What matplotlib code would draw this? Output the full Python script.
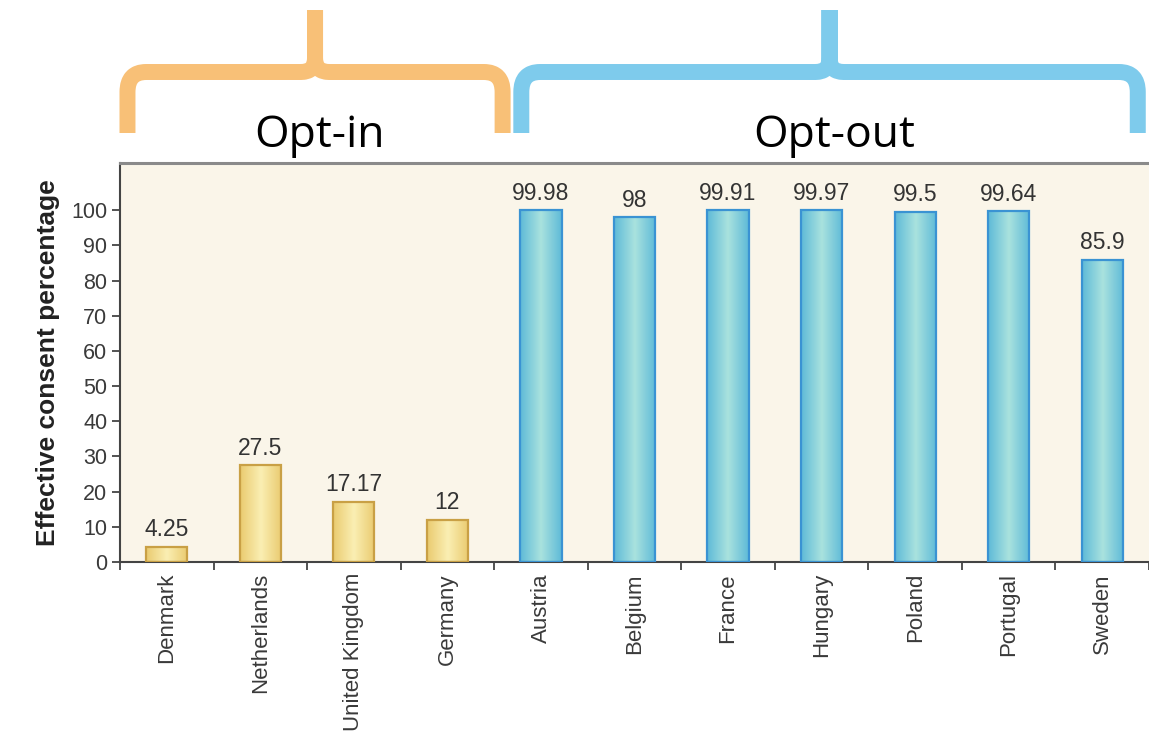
import numpy as np
import matplotlib
matplotlib.use('Agg')
import matplotlib.pyplot as plt
from matplotlib.path import Path
from matplotlib.patches import PathPatch
from matplotlib import transforms
from matplotlib.colors import LinearSegmentedColormap

# data
countries = ['Denmark', 'Netherlands', 'United Kingdom', 'Germany',
             'Austria', 'Belgium', 'France', 'Hungary', 'Poland',
             'Portugal', 'Sweden']
consent = [4.25, 27.5, 17.17, 12, 99.98, 98, 99.91, 99.97, 99.5, 99.64, 85.9]
value_labels = ['4.25', '27.5', '17.17', '12', '99.98', '98', '99.91',
                '99.97', '99.5', '99.64', '85.9']
groups = ['Opt-in', 'Opt-out']
group_size = [4, 7]
yticks = list(range(0, 101, 10))

W, H = 1149, 739
plt.rcParams['font.family'] = ['Liberation Sans', 'DejaVu Sans']

fig = plt.figure(figsize=(W / 100, H / 100), dpi=100)
fig.patch.set_facecolor('white')
ax = fig.add_axes([120 / W, 177 / H, 1029 / W, 399 / H])
ax.set_facecolor('#FAF5E9')

x = np.arange(len(countries))
# colours per group: (edge, side shade, middle shade)
styles = [('#C9A045', '#EACB70', '#FAEEB2'),
          ('#3A93D3', '#5FBAD8', '#A8E2DE')]
grp = np.repeat(np.arange(len(groups)), group_size)

bars = ax.bar(x, consent, width=0.44, facecolor='none', linewidth=1.6,
              edgecolor=[styles[g][0] for g in grp], zorder=3)
grad = np.abs(np.linspace(-1, 1, 64))[None, :]
for b, g in zip(bars, grp):
    cm = LinearSegmentedColormap.from_list('g%d' % g, [styles[g][2], styles[g][1]])
    im = ax.imshow(grad, cmap=cm, aspect='auto', zorder=2,
                   extent=(b.get_x(), b.get_x() + b.get_width(), 0, b.get_height()))
    im.set_clip_path(b)

for xi, v, s in zip(x, consent, value_labels):
    ax.annotate(s, (xi, v), xytext=(0, 4), textcoords='offset points',
                ha='center', va='bottom', fontsize=16.5, color='#333333')

ax.set_xlim(-0.5, 10.46)
ax.set_ylim(0, 113.4)
ax.set_yticks(yticks)
ax.tick_params(axis='y', labelsize=15.5, labelcolor='#3a3a3a', length=6,
               width=1.3, color='#444444', pad=3)
ax.set_xticks(x)
ax.set_xticklabels(countries, rotation=90, fontsize=16, color='#3a3a3a')
ax.tick_params(axis='x', which='major', length=0, pad=8)
ax.set_xticks(np.arange(-0.5, len(countries), 1), minor=True)
ax.tick_params(axis='x', which='minor', length=6, width=1.3, color='#444444')

ax.spines['right'].set_visible(False)
ax.spines['top'].set_color('#8a8a8a')
ax.spines['top'].set_linewidth(2.2)
for s in ['left', 'bottom']:
    ax.spines[s].set_color('#444444')
    ax.spines[s].set_linewidth(1.5)

ax.set_ylabel('Effective consent percentage', fontsize=19, fontweight='bold',
              color='#222222')
ax.yaxis.set_label_coords(-0.058, 0.5)

# braces over the two groups
trans = transforms.blended_transform_factory(ax.transData, fig.transFigure)
brace_cols = ['#F8C077', '#7ECBEC']
pad_l, pad_r = [0.08, 0.29], [-0.09, 0.12]
y_bar = 1 - 72 / H
y_leg = 1 - 133 / H
y_tip = 1 - 10 / H
rx, ry = 0.2, 20 / H
rx2, ry2 = 0.15, 14 / H
start = -0.5
for name, n, col, pl, pr in zip(groups, group_size, brace_cols, pad_l, pad_r):
    x0 = start + pl
    x1 = start + n - pr
    xm = (x0 + x1) / 2
    verts, codes = [], []
    for xe, d in [(x0, 1), (x1, -1)]:
        verts += [(xe, y_leg), (xe, y_bar - ry), (xe, y_bar), (xe + d * rx, y_bar),
                  (xm - d * rx2, y_bar), (xm, y_bar), (xm, y_bar + ry2), (xm, y_tip)]
        codes += [Path.MOVETO, Path.LINETO, Path.CURVE3, Path.CURVE3,
                  Path.LINETO, Path.CURVE3, Path.CURVE3, Path.LINETO]
    patch = PathPatch(Path(verts, codes), transform=trans, facecolor='none',
                      edgecolor=col, linewidth=11.5, capstyle='butt',
                      joinstyle='round', clip_on=False)
    fig.patches.append(patch)
    fig.text(xm + 0.05, 1 - 147 / H, name, transform=trans, ha='center',
             va='baseline', fontsize=32, family=['Open Sans', 'DejaVu Sans'],
             color='black')
    start += n

fig.savefig('out.png', dpi=100)
